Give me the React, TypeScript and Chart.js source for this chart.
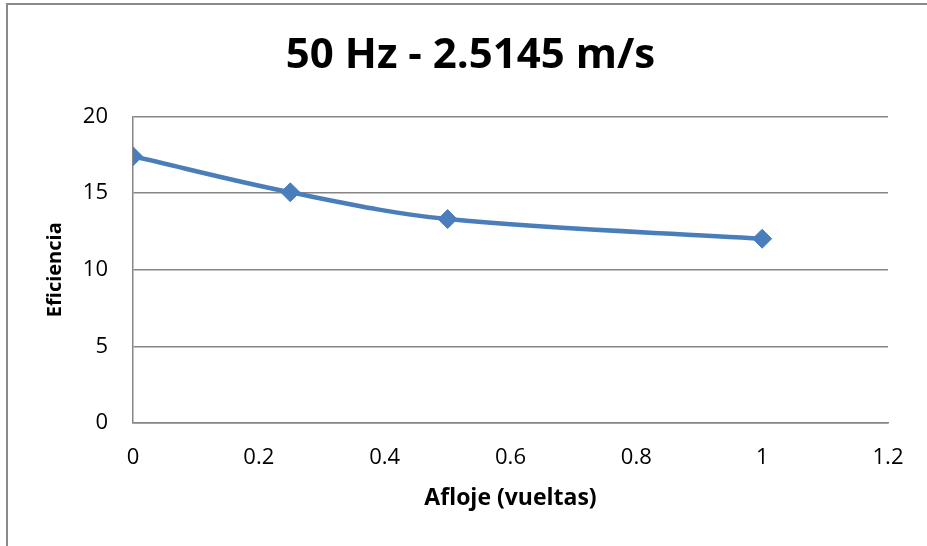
import React, { useEffect, useRef } from "react";
import { Chart, registerables } from "chart.js";

Chart.register(...registerables);

const titleText = "50 Hz - 2.5145 m/s";
const xTitle = "Afloje (vueltas)";
const yTitle = "Eficiencia";
const afloje = [0, 0.25, 0.5, 1];
const eficiencia = [17.4, 15.05, 13.3, 12.02];
const xTicks = { min: 0, max: 1.2, step: 0.2 };
const yTicks = { min: 0, max: 20, step: 5 };

const FONT = "'Open Sans', sans-serif";
const GRID = "#868686";
const BLUE = "#4A7EBB";

export default function App() {
  const ref = useRef<HTMLCanvasElement | null>(null);

  useEffect(() => {
    if (!ref.current) return;
    const chart = new Chart(ref.current, {
      type: "scatter",
      data: {
        datasets: [
          {
            data: afloje.map((x, i) => ({ x, y: eficiencia[i] })),
            showLine: true,
            borderColor: BLUE,
            backgroundColor: BLUE,
            borderWidth: 4.5,
            tension: 0.35,
            pointStyle: "rectRot",
            pointRadius: 9.5,
            pointBorderWidth: 1,
            pointBorderColor: BLUE,
            pointBackgroundColor: BLUE,
          },
        ],
      },
      options: {
        animation: false,
        responsive: false,
        maintainAspectRatio: false,
        layout: { padding: { left: 53, right: 39, top: 0, bottom: 0 } },
        plugins: {
          legend: { display: false },
          tooltip: { enabled: false },
          title: {
            display: true,
            text: titleText,
            color: "#000",
            font: { family: FONT, size: 42, weight: "bold" },
            padding: { top: 31, bottom: 35 },
          },
        },
        scales: {
          x: {
            type: "linear",
            min: xTicks.min,
            max: xTicks.max,
            afterFit: (s: any) => {
              s.height = 123;
            },
            ticks: {
              stepSize: xTicks.step,
              color: "#000",
              font: { family: FONT, size: 22 },
              padding: 22,
              maxRotation: 0,
              callback: (v: any) => String(Math.round(Number(v) * 10) / 10),
            },
            grid: { display: false, drawTicks: false },
            border: { display: true, color: GRID, width: 1.5 },
            title: {
              display: true,
              text: xTitle,
              color: "#000",
              font: { family: FONT, size: 23, weight: "bold" },
              padding: { top: 0, bottom: 34 },
            },
          },
          y: {
            type: "linear",
            min: yTicks.min,
            max: yTicks.max,
            afterFit: (s: any) => {
              s.width = 80;
            },
            ticks: {
              stepSize: yTicks.step,
              color: "#000",
              font: { family: FONT, size: 22 },
              padding: 25,
            },
            grid: { color: GRID, lineWidth: 1.5, drawTicks: false },
            border: { display: true, color: GRID, width: 1.5 },
            title: {
              display: true,
              text: yTitle,
              color: "#000",
              font: { family: FONT, size: 20, weight: "bold" },
              padding: { top: -10, bottom: 0 },
            },
          },
        },
      },
    });
    return () => chart.destroy();
  }, []);

  return (
    <div
      style={{
        position: "fixed",
        left: 0,
        top: 0,
        width: 927,
        height: 546,
        overflow: "hidden",
        background: "#fff",
      }}
    >
      <div
        style={{
          position: "absolute",
          left: 6,
          top: 3,
          width: 1000,
          height: 700,
          border: "2px solid #898989",
          boxSizing: "border-box",
        }}
      />
      <canvas
        ref={ref}
        width={927}
        height={546}
        style={{ position: "absolute", left: 0, top: 0, width: 927, height: 546 }}
      />
    </div>
  );
}
